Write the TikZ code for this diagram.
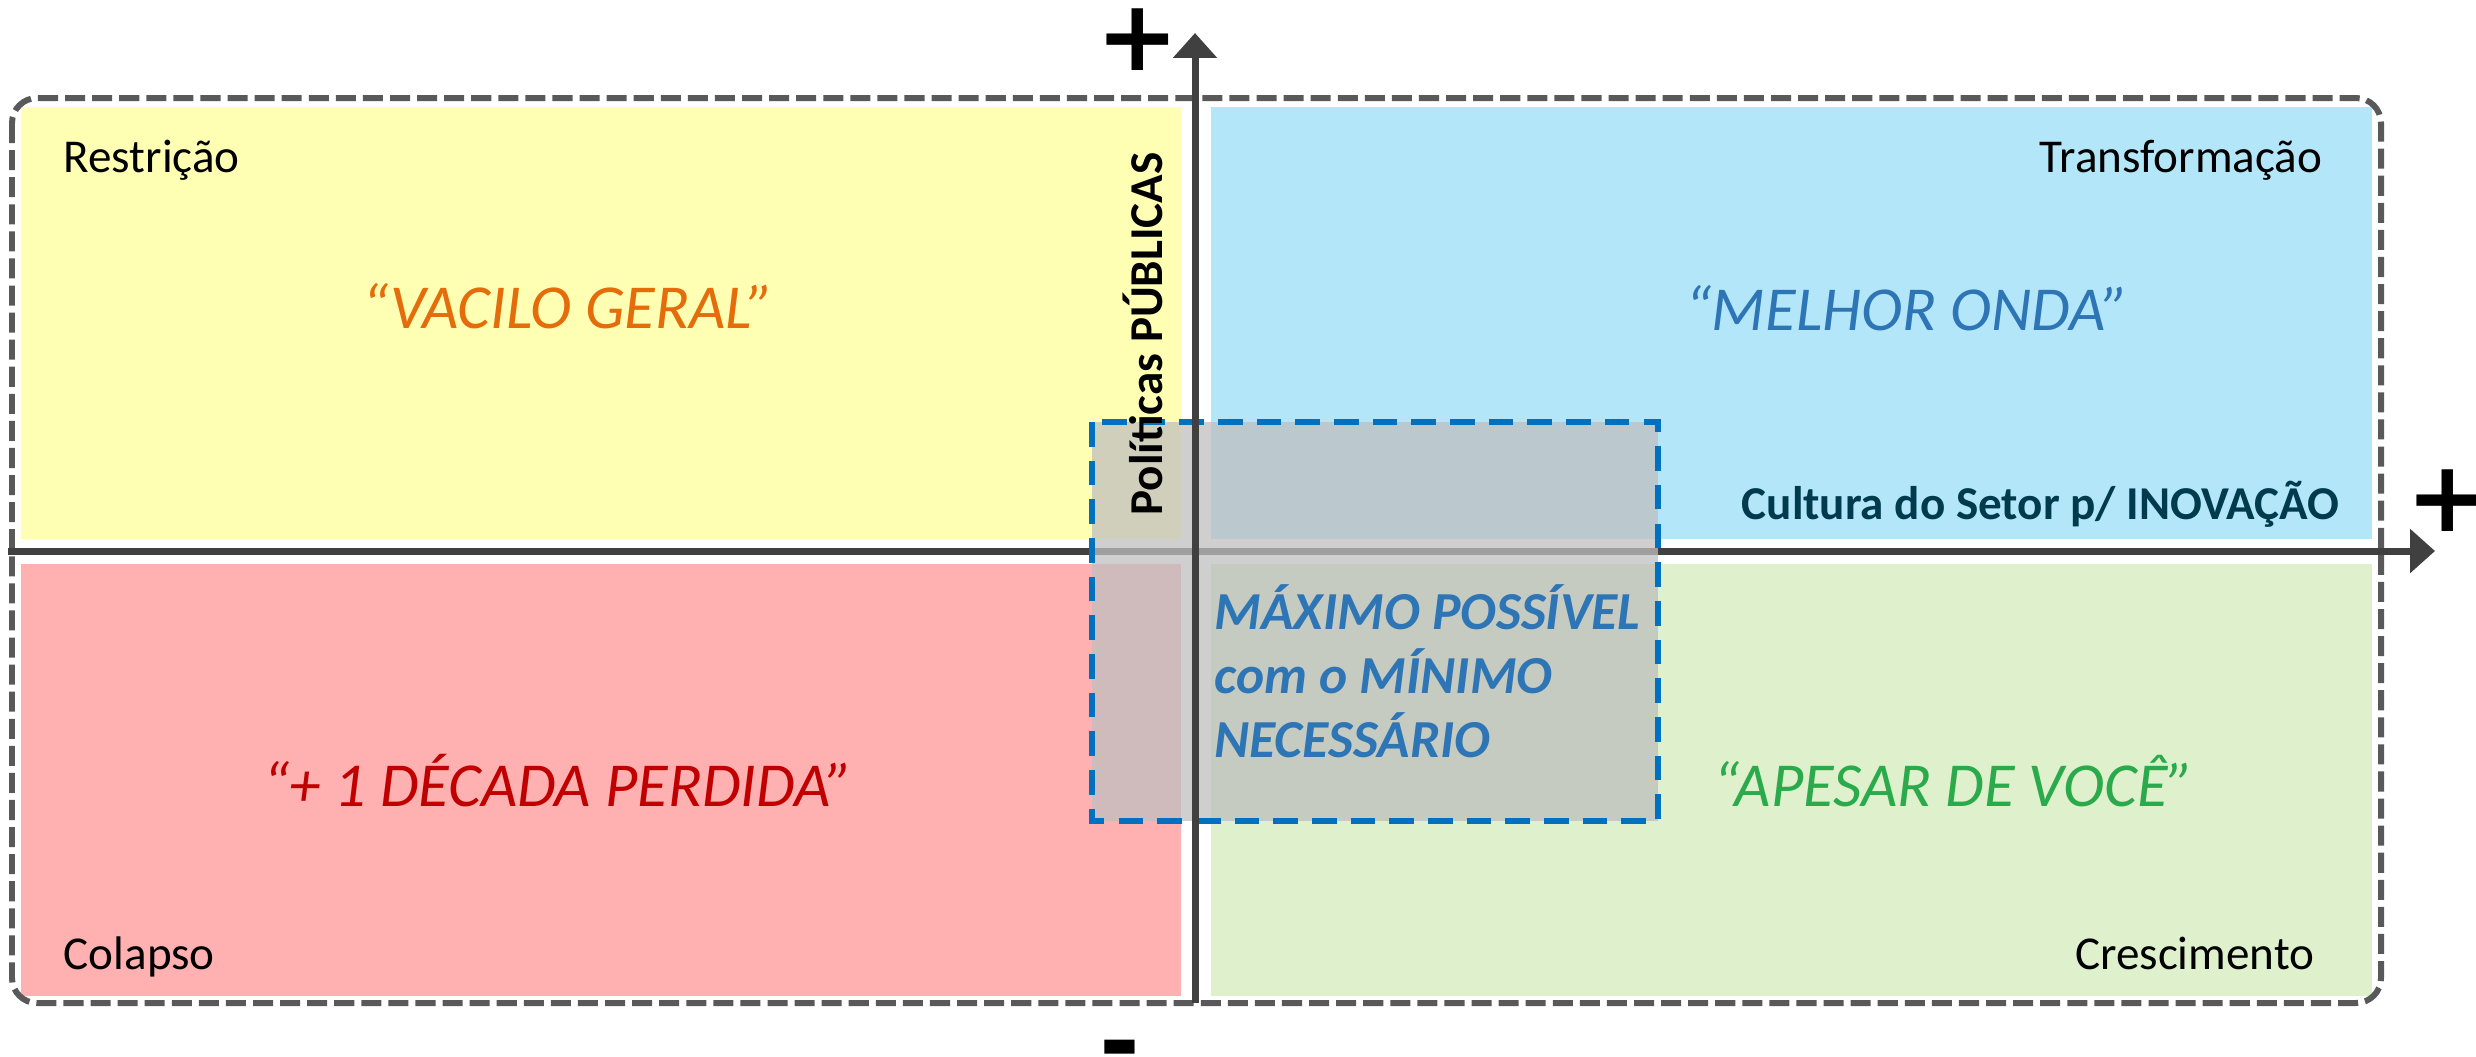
\documentclass[tikz,border=0pt]{standalone}
\usepackage{fontspec}
\setmainfont{Carlito}
\newfontfamily\signfont{DejaVu Sans}
\usepackage{xcolor}
\usepackage{tikz}
\usetikzlibrary{arrows.meta,positioning}
\definecolor{quadYel}{RGB}{255,255,179}
\definecolor{quadBlu}{RGB}{178,230,248}
\definecolor{quadRed}{RGB}{255,176,176}
\definecolor{quadGrn}{RGB}{222,240,204}
\definecolor{axisGray}{RGB}{64,64,64}
\definecolor{frameGray}{RGB}{89,89,89}
\definecolor{boxBlue}{RGB}{0,112,192}
\definecolor{txtBlue}{RGB}{46,117,182}
\definecolor{txtOrange}{RGB}{228,108,10}
\definecolor{txtRed}{RGB}{192,0,0}
\definecolor{txtGreen}{RGB}{43,170,76}
\definecolor{txtTeal}{RGB}{0,58,77}
\tikzset{
  quadA/.style={fill=quadYel},      % top left (Restricao)
  quadB/.style={fill=quadBlu},      % top right (Transformacao)
  quadC/.style={fill=quadRed},      % bottom left (Colapso)
  quadD/.style={fill=quadGrn},      % bottom right (Crescimento)
  outerframe/.style={draw=frameGray, line width=1.7pt, dash pattern=on 5.7pt off 2pt, rounded corners=0.25cm},
  mainaxis/.style={draw=axisGray, line width=2pt, -{Triangle[length=7.1pt,width=12.2pt]}},
  midbox/.style={draw=boxBlue, line width=1.6pt, dash pattern=on 7pt off 4pt, fill=black!25, fill opacity=0.75},
  corner/.style={inner sep=0pt, font=\fontsize{13.4}{16}\selectfont},
  scenario/.style={inner sep=0pt, font=\fontsize{17.8}{21}\selectfont\itshape},
  axislabel/.style={inner sep=0pt, font=\fontsize{13.4}{16}\selectfont\bfseries},
  maxtext/.style={inner sep=0pt, text=txtBlue, align=left, font=\fontsize{15.2}{18.2}\selectfont\bfseries\itshape},
  sign/.style={inner sep=0pt, font=\signfont\fontsize{28}{30}\selectfont\bfseries}
}

\begin{document}
\begin{tikzpicture}[x=0.01cm, y=-0.01cm]
  \useasboundingbox (0,0) rectangle (2476,1056);
  % four scenario quadrants
  \path[quadA] (21,107) rectangle (1181,539);
  \path[quadB] (1211,107) rectangle (2372,539);
  \path[quadC] (21,564) rectangle (1181,996);
  \path[quadD] (1211,564) rectangle (2372,996);
  \draw[outerframe] (12,98) rectangle (2381,1003);
  % axes
  \coordinate (xfrom) at (8,551);
  \coordinate (xto) at (2435,551);
  \coordinate (yfrom) at (1195,1003);
  \coordinate (yto) at (1195,33);
  \draw[mainaxis] (xfrom) -- (xto);
  \path[midbox] (1092,422) rectangle (1658,821);
  \draw[mainaxis] (yfrom) -- (yto);
  \node[sign] (plusY) at (1138,40) {+};
  \node[sign] (plusX) at (2448,501) {+};
  \node[sign, anchor=north] (minusY) at (1120,1039) {-};
  % labels
  \node[corner, anchor=base west] (restr) at (63,172) {Restrição};
  \node[corner, anchor=base east] (transf) at (2323,172) {Transformação};
  \node[corner, anchor=base west] (colapso) at (63,969) {Colapso};
  \node[corner, anchor=base east] (cresc) at (2315,969) {Crescimento};
  \node[scenario, text=txtOrange, anchor=base] (vacilo) at (568,328) {“VACILO GERAL”};
  \node[scenario, text=txtBlue, anchor=base] (melhor) at (1907,330) {“MELHOR ONDA”};
  \node[scenario, text=txtRed, anchor=base] (decada) at (558,806) {“+ 1 DÉCADA PERDIDA”};
  \node[scenario, text=txtGreen, anchor=base] (apesar) at (1954,806) {“APESAR DE VOCÊ”};
  \node[axislabel, text=txtTeal, anchor=base east] (cultura) at (2340,519) {Cultura do Setor p/ INOVAÇÃO};
  \node[axislabel, rotate=90, anchor=base] (politicas) at (1162,334) {Políticas PÚBLICAS};
  \node[maxtext, anchor=north west] (maximo) at (1214,584) {MÁXIMO POSSÍVEL\\com o MÍNIMO\\NECESSÁRIO};
\end{tikzpicture}
\end{document}
